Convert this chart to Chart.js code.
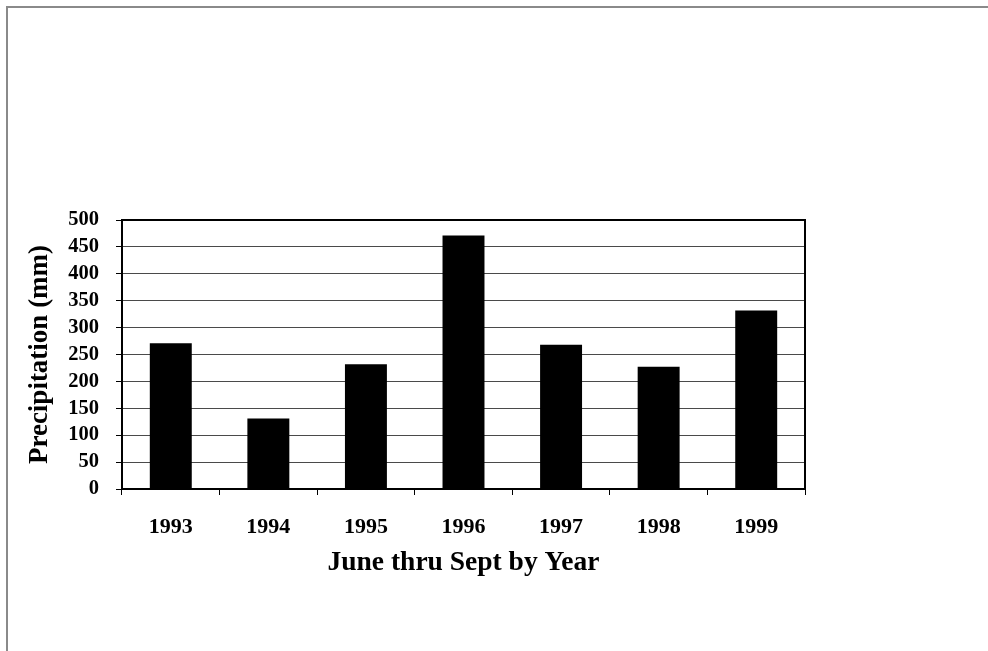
<!DOCTYPE html>
<html>
<head>
<meta charset="utf-8">
<title>Precipitation, June thru Sept</title>
<script src="https://cdn.jsdelivr.net/npm/chart.js@4.4.1/dist/chart.umd.min.js"></script>
<style>
  html, body { margin: 0; padding: 0; background: #ffffff; }
  #wrap { position: relative; width: 988px; height: 651px; }
  canvas { display: block; }
</style>
</head>
<body>
<div id="wrap"><canvas id="chart" width="988" height="651"></canvas></div>
<script>
// Seasonal rainfall totals, June through September of each year
const years = ['1993', '1994', '1995', '1996', '1997', '1998', '1999'];
const precipitationMm = [271, 131, 232, 471, 268, 227, 332];
const yTicks = [0, 50, 100, 150, 200, 250, 300, 350, 400, 450, 500];

const serif = '"Liberation Serif", "Times New Roman", serif';

// Outer page frame (top and left edges) plus a full box around the plot area
const framePlugin = {
  id: 'frame',
  beforeDraw(chart) {
    const ctx = chart.ctx;
    ctx.save();
    ctx.fillStyle = '#ffffff';
    ctx.fillRect(0, 0, chart.width, chart.height);
    ctx.restore();
  },
  afterDraw(chart) {
    const ctx = chart.ctx;
    const a = chart.chartArea;
    ctx.save();
    ctx.strokeStyle = '#8a8a8a';
    ctx.lineWidth = 2;
    ctx.beginPath();
    ctx.moveTo(7, chart.height);
    ctx.lineTo(7, 7);
    ctx.lineTo(chart.width, 7);
    ctx.stroke();
    ctx.strokeStyle = '#000000';
    ctx.lineWidth = 2;
    ctx.strokeRect(a.left, a.top, a.right - a.left, a.bottom - a.top);
    ctx.restore();
  }
};

new Chart(document.getElementById('chart'), {
  type: 'bar',
  data: {
    labels: years,
    datasets: [{
      data: precipitationMm,
      backgroundColor: '#000000',
      borderWidth: 0,
      categoryPercentage: 1.0,
      barPercentage: 0.43
    }]
  },
  options: {
    responsive: false,
    animation: false,
    devicePixelRatio: 1,
    layout: { padding: { top: 220, right: 183, left: 20, bottom: 72 } },
    plugins: {
      legend: { display: false },
      tooltip: { enabled: false }
    },
    scales: {
      x: {
        offset: true,
        grid: {
          offset: true,
          drawOnChartArea: false,
          drawTicks: true,
          tickLength: 6,
          tickColor: '#000000',
          lineWidth: 1
        },
        border: { display: true, color: '#000000', width: 2 },
        ticks: {
          color: '#000000',
          padding: 19,
          maxRotation: 0,
          font: { family: serif, size: 22, weight: 'bold' }
        },
        title: {
          display: true,
          text: 'June thru Sept by Year',
          color: '#000000',
          padding: { top: 0, bottom: 0 },
          font: { family: serif, size: 27.5, weight: 'bold' }
        },
        afterFit(scale) { scale.height = 90; }
      },
      y: {
        min: 0,
        max: 500,
        afterBuildTicks(scale) {
          scale.ticks = yTicks.map(v => ({ value: v }));
        },
        grid: {
          color: '#4a4a4a',
          lineWidth: 1,
          drawTicks: true,
          tickLength: 6,
          tickColor: '#000000'
        },
        border: { display: true, color: '#000000', width: 2 },
        ticks: {
          color: '#000000',
          padding: 17,
          autoSkip: false,
          font: { family: serif, size: 20.5, weight: 'bold', lineHeight: 1.0 }
        },
        title: {
          display: true,
          text: 'Precipitation (mm)',
          color: '#000000',
          padding: { top: 4, bottom: 0 },
          font: { family: serif, size: 27, weight: 'bold' }
        },
        afterFit(scale) { scale.width = 102; }
      }
    }
  },
  plugins: [framePlugin]
});
</script>
</body>
</html>
